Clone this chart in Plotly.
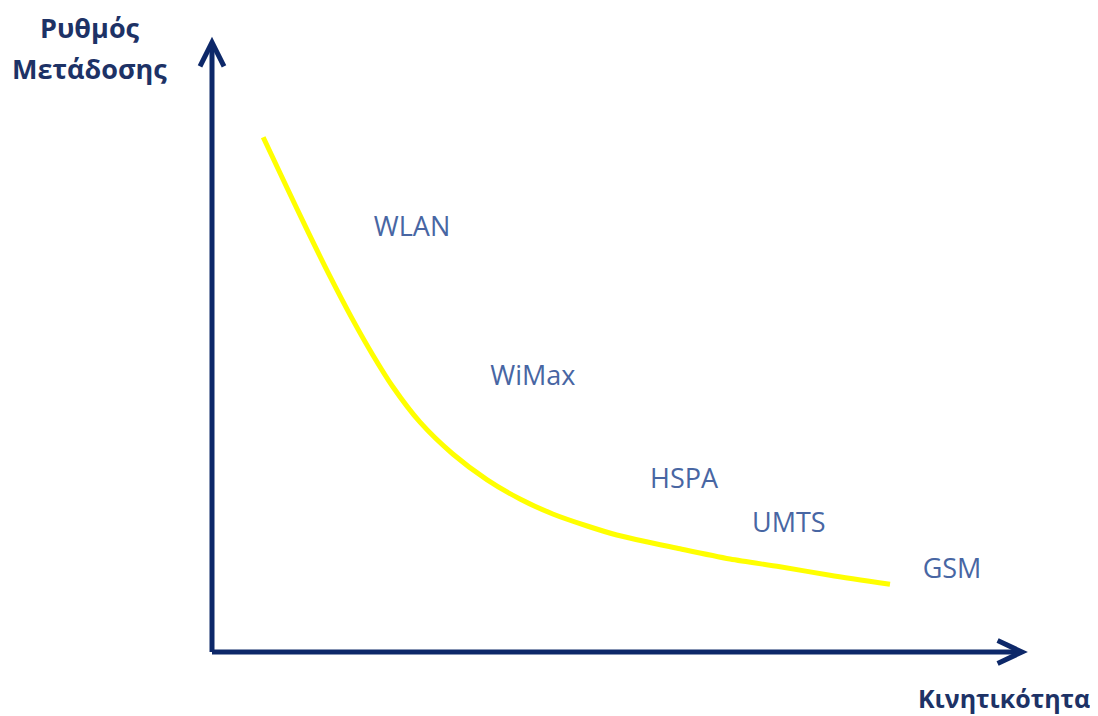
import plotly.graph_objects as go

# curve (mobility vs. data rate, arbitrary units)
mobility = [6.4, 8.9, 11.9, 14.75, 17.5, 20.1, 22.6, 26.0, 30.1, 34.4, 38.5, 42.6,
            46.9, 50.6, 58.5, 64.75, 71.0, 77.25, 84.75]
rate = [85.8, 78.7, 70.3, 62.6, 55.6, 49.5, 44.2, 38.3, 33.0, 28.7, 25.5, 23.0,
        21.0, 19.5, 17.2, 15.5, 14.2, 12.8, 11.3]

# technology labels
tech_names = ["WLAN", "WiMax", "HSPA", "UMTS", "GSM"]
tech_x = [25.0, 40.1, 59.0, 72.1, 92.5]
tech_y = [70.5, 45.7, 28.5, 21.2, 13.5]

AXIS_COLOR = "#0d2869"
LABEL_COLOR = "#4866a3"
TITLE_COLOR = "#1d3266"

fig = go.Figure()

fig.add_trace(go.Scatter(
    x=mobility, y=rate, mode="lines",
    line=dict(color="#ffff00", width=5, shape="spline", smoothing=0.8),
    hoverinfo="skip", showlegend=False,
))

fig.add_trace(go.Scatter(
    x=tech_x, y=tech_y, mode="text", text=tech_names,
    textfont=dict(family="Open Sans", size=27, color=LABEL_COLOR),
    textposition="middle center", hoverinfo="skip", showlegend=False,
))

# axes drawn as arrows
shapes = [
    dict(type="line", x0=0, y0=0, x1=0, y1=101.2, line=dict(color=AXIS_COLOR, width=5)),
    dict(type="line", x0=0, y0=0, x1=100.9, y1=0, line=dict(color=AXIS_COLOR, width=5)),
    dict(type="path", path="M -1.5 97.6 L 0 101.6 L 1.5 97.6",
         line=dict(color=AXIS_COLOR, width=5)),
    dict(type="path", path="M 98.2 1.9 L 101.25 0 L 98.2 -1.9",
         line=dict(color=AXIS_COLOR, width=5)),
]

title_font = dict(family="Open Sans", size=27, color=TITLE_COLOR)
annotations = [
    dict(text="<b>Ρυθμός</b>", xref="paper", yref="paper", x=0.0752, y=0.972,
         xanchor="center", yanchor="middle", showarrow=False, font=title_font),
    dict(text="<b>Μετάδοσης</b>", xref="paper", yref="paper", x=0.0752, y=0.915,
         xanchor="center", yanchor="middle", showarrow=False, font=title_font),
    dict(text="<b>Κινητικότητα</b>", xref="paper", yref="paper", x=0.9138, y=0.0254,
         xanchor="center", yanchor="middle", showarrow=False,
         font=dict(family="Open Sans", size=25, color=TITLE_COLOR)),
]

# the page body adds an 8px margin, so the figure is 8px smaller on each side
fig.update_layout(
    width=1090, height=708, autosize=False,
    margin=dict(l=0, r=0, t=0, b=0),
    paper_bgcolor="white", plot_bgcolor="white",
    shapes=shapes, annotations=annotations,
    xaxis=dict(range=[-25.5, 110.75], visible=False, fixedrange=True),
    yaxis=dict(range=[-10.667, 107.333], visible=False, fixedrange=True),
)

fig.write_html("out.html")
